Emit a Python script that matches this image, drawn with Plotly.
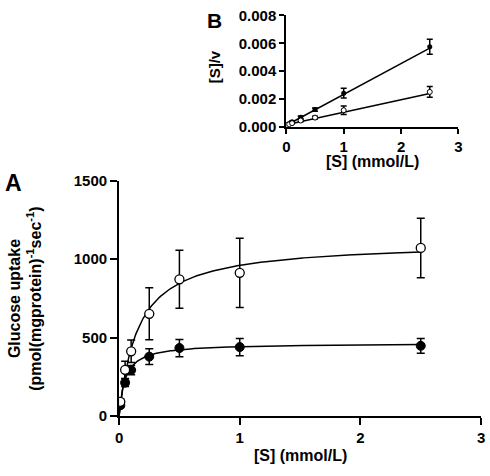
import plotly.graph_objects as go
import numpy as np

# Panel A data
s_conc = [0.01, 0.05, 0.1, 0.25, 0.5, 1.0, 2.5]
open_uptake = [90, 294, 412, 651, 871, 912, 1071]
open_err = [20, 55, 72, 166, 185, 220, 190]
filled_uptake = [68, 212, 292, 378, 433, 439, 447]
filled_err = [15, 25, 30, 50, 55, 55, 47]

# Michaelis-Menten fit parameters
open_vmax, open_km = 1111, 0.157
filled_vmax, filled_km = 464, 0.05

# Panel B data ([S]/v)
open_sv = [0.00011, 0.00017, 0.00025, 0.00044, 0.00065, 0.00118, 0.0025]
open_sv_err = [0.00002, 0.00003, 0.00004, 0.00008, 0.0001, 0.0003, 0.00038]
filled_sv = [0.00015, 0.00023, 0.00036, 0.00067, 0.00123, 0.00241, 0.00574]
filled_sv_err = [0.00002, 0.00003, 0.00005, 0.0001, 0.00012, 0.00035, 0.00054]

# Linear fit parameters (slope, intercept)
open_line = (0.0009, 0.000141)
filled_line = (0.00222, 0.0001)

font = "Liberation Sans, Arial, sans-serif"
fig = go.Figure()

xs = np.linspace(0, 2.5, 300)
for vmax, km in [(open_vmax, open_km), (filled_vmax, filled_km)]:
    fig.add_trace(go.Scatter(x=xs, y=vmax * xs / (km + xs), mode="lines",
                             line=dict(color="black", width=1.5),
                             xaxis="x", yaxis="y", showlegend=False, hoverinfo="skip"))

fig.add_trace(go.Scatter(x=s_conc, y=filled_uptake, mode="markers",
                         marker=dict(color="black", size=9, line=dict(color="black", width=1)),
                         error_y=dict(type="data", array=filled_err, color="black", thickness=1.5, width=4),
                         xaxis="x", yaxis="y", showlegend=False))
fig.add_trace(go.Scatter(x=s_conc, y=open_uptake, mode="markers",
                         marker=dict(color="white", size=9, line=dict(color="black", width=1.3)),
                         error_y=dict(type="data", array=open_err, color="black", thickness=1.5, width=4),
                         xaxis="x", yaxis="y", showlegend=False))

xl = np.array([0, 2.5])
for slope, icpt in [open_line, filled_line]:
    fig.add_trace(go.Scatter(x=xl, y=slope * xl + icpt, mode="lines",
                             line=dict(color="black", width=1.5),
                             xaxis="x2", yaxis="y2", showlegend=False, hoverinfo="skip"))
fig.add_trace(go.Scatter(x=s_conc, y=filled_sv, mode="markers",
                         marker=dict(color="black", size=5),
                         error_y=dict(type="data", array=filled_sv_err, color="black", thickness=1.5, width=3),
                         xaxis="x2", yaxis="y2", showlegend=False))
fig.add_trace(go.Scatter(x=s_conc, y=open_sv, mode="markers",
                         marker=dict(color="white", size=5, line=dict(color="black", width=1)),
                         error_y=dict(type="data", array=open_sv_err, color="black", thickness=1.5, width=3),
                         xaxis="x2", yaxis="y2", showlegend=False))

def axis_common(ticklen):
    return dict(showline=True, linecolor="black", linewidth=2, ticks="outside",
                ticklen=ticklen, tickwidth=2, tickcolor="black", showgrid=False, zeroline=False,
                ticklabeloverflow="allow",
                tickfont=dict(family=font, size=15, color="black", weight="bold"))

main_x_ticks = [0, 1, 2, 3]
main_y_ticks = [0, 500, 1000, 1500]
inset_y_ticks = [0, 0.002, 0.004, 0.006, 0.008]

fig.update_layout(
    width=490, height=476, autosize=False,
    margin=dict(l=0, r=0, t=0, b=0),
    paper_bgcolor="white", plot_bgcolor="white",
    xaxis=dict(domain=[117/490, 485/490], range=[0, 3], tickvals=main_x_ticks,
               ticktext=[f"<b>{v}</b>" for v in main_x_ticks], anchor="y", **axis_common(7)),
    yaxis=dict(domain=[(476-422)/476, (476-178)/476], range=[0, 1500],
               tickvals=main_y_ticks, ticktext=[f"<b>{v}</b>" for v in main_y_ticks],
               anchor="x", **axis_common(7)),
    xaxis2=dict(domain=[287/490, 462/490], range=[0, 3], tickvals=main_x_ticks,
                ticktext=[f"<b>{v}</b>" for v in main_x_ticks], anchor="y2", **axis_common(5)),
    yaxis2=dict(domain=[(476-122)/476, (476-6.7)/476], range=[0, 0.008],
                tickvals=inset_y_ticks, ticktext=[f"<b>{v:.3f}</b>" for v in inset_y_ticks],
                anchor="x2", **axis_common(5)),
)

def ann(text, x, y, size=16, angle=0):
    fig.add_annotation(text=f"<b>{text}</b>", x=x / 490, y=1 - y / 476, xref="paper", yref="paper",
                       showarrow=False, textangle=angle, xanchor="center", yanchor="middle",
                       font=dict(family=font, size=size, color="black", weight="bold"))

ann("[S] (mmol/L)", 301, 463)
ann("[S] (mmol/L)", 375, 158)
ann("[S]/v", 214, 60, size=15, angle=-90)
ann("Glucose uptake", 10, 300, angle=-90)
ann("(pmol(mgprotein)<sup>-1</sup>sec<sup>-1</sup>)", 31, 300, angle=-90)
ann("A", 10, 180, size=23)
ann("B", 214, 12, size=21)

fig.write_html("out.html",
               config={"displayModeBar": False, "responsive": False},
               post_script="document.body.style.margin='0';document.body.style.overflow='hidden';")
